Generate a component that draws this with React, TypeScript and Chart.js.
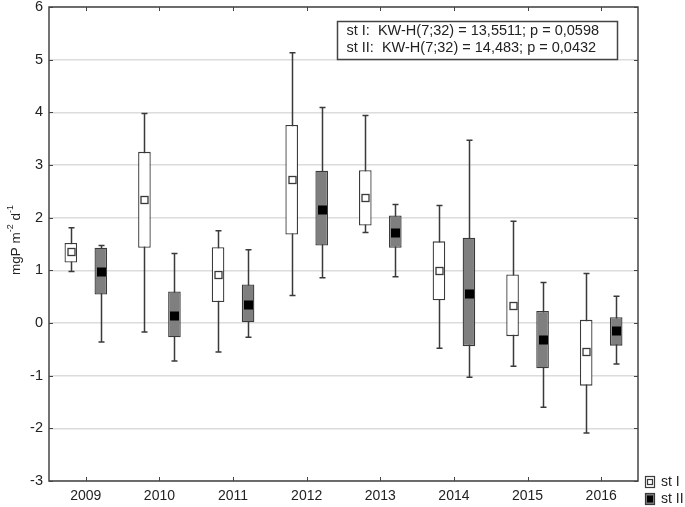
import React, { useEffect, useRef } from "react";
import { Chart, registerables } from "chart.js";
Chart.register(...registerables);

const years = ["2009", "2010", "2011", "2012", "2013", "2014", "2015", "2016"];
const st1Min = [0.98, -0.17, -0.55, 0.52, 1.72, -0.48, -0.82, -2.09];
const st1Q1 = [1.15, 1.43, 0.4, 1.68, 1.85, 0.43, -0.25, -1.19];
const st1Med = [1.34, 2.33, 0.91, 2.72, 2.38, 0.99, 0.32, -0.55];
const st1Q3 = [1.52, 3.25, 1.44, 3.76, 2.9, 1.55, 0.92, 0.06];
const st1Max = [1.81, 3.98, 1.75, 5.13, 3.94, 2.23, 1.93, 0.94];
const st2Min = [-0.36, -0.72, -0.27, 0.86, 0.88, -1.03, -1.6, -0.78];
const st2Q1 = [0.54, -0.27, 0.0, 1.47, 1.43, -0.44, -0.86, -0.43];
const st2Med = [0.96, 0.14, 0.35, 2.15, 1.71, 0.56, -0.33, -0.16];
const st2Q3 = [1.43, 0.6, 0.73, 2.89, 2.04, 1.62, 0.23, 0.11];
const st2Max = [1.47, 1.32, 1.39, 4.09, 2.25, 3.47, 0.77, 0.51];
const yMin = -3;
const yMax = 6;
const seriesNames = ["st I", "st II"];
const statLines = [
  "st I:  KW-H(7;32) = 13,5511; p = 0,0598",
  "st II:  KW-H(7;32) = 14,483; p = 0,0432",
];

const FONT = "'Liberation Sans', Arial, sans-serif";
const DARK = "#3a3a3a";
const GRAY = "#7f7f7f";

const boxPlugin = {
  id: "boxExtras",
  beforeDatasetsDraw(chart: any) {
    const ctx = chart.ctx;
    const y = chart.scales.y;
    const mins = [st1Min, st2Min];
    const maxs = [st1Max, st2Max];
    ctx.save();
    ctx.strokeStyle = DARK;
    ctx.lineWidth = 1.5;
    for (let d = 0; d < 2; d++) {
      const meta = chart.getDatasetMeta(d);
      meta.data.forEach((el: any, i: number) => {
        const x = Math.round(el.x) + 0.5;
        const y0 = y.getPixelForValue(mins[d][i]);
        const y1 = y.getPixelForValue(maxs[d][i]);
        ctx.beginPath();
        ctx.moveTo(x, y0);
        ctx.lineTo(x, y1);
        ctx.moveTo(x - 3, y0);
        ctx.lineTo(x + 3, y0);
        ctx.moveTo(x - 3, y1);
        ctx.lineTo(x + 3, y1);
        ctx.stroke();
      });
    }
    ctx.restore();
  },
  afterDatasetsDraw(chart: any) {
    const ctx = chart.ctx;
    const y = chart.scales.y;
    const meds = [st1Med, st2Med];
    ctx.save();
    for (let d = 0; d < 2; d++) {
      const meta = chart.getDatasetMeta(d);
      meta.data.forEach((el: any, i: number) => {
        const x = Math.round(el.x) + 0.5;
        const ym = Math.round(y.getPixelForValue(meds[d][i]));
        if (d === 0) {
          ctx.fillStyle = "#ffffff";
          ctx.strokeStyle = DARK;
          ctx.lineWidth = 1.3;
          ctx.fillRect(x - 3.5, ym - 3.5, 7, 7);
          ctx.strokeRect(x - 3.5, ym - 3.5, 7, 7);
        } else {
          ctx.fillStyle = "#000000";
          ctx.fillRect(x - 4.5, ym - 4.5, 9, 9);
        }
      });
    }
    ctx.restore();
  },
  afterDraw(chart: any) {
    const ctx = chart.ctx;
    const a = chart.chartArea;
    const xs = chart.scales.x;
    const ys = chart.scales.y;
    ctx.save();
    // frame
    ctx.strokeStyle = "#444";
    ctx.lineWidth = 1.5;
    ctx.strokeRect(a.left, a.top, a.right - a.left, a.bottom - a.top);
    // tick marks
    ctx.lineWidth = 1;
    ctx.beginPath();
    for (let i = 0; i < years.length; i++) {
      const px = Math.round(xs.getPixelForValue(i)) + 0.5;
      ctx.moveTo(px, a.bottom);
      ctx.lineTo(px, a.bottom - 4);
      ctx.moveTo(px, a.top);
      ctx.lineTo(px, a.top + 4);
    }
    for (let v = yMin; v <= yMax; v++) {
      const py = Math.round(ys.getPixelForValue(v)) + 0.5;
      ctx.moveTo(a.left, py);
      ctx.lineTo(a.left + 4, py);
      ctx.moveTo(a.right, py);
      ctx.lineTo(a.right - 4, py);
    }
    ctx.stroke();

    // y-axis title with superscripts
    ctx.fillStyle = "#222";
    ctx.translate(16, (a.top + a.bottom) / 2 - 4);
    ctx.rotate(-Math.PI / 2);
    const parts: [string, boolean][] = [
      ["mgP m", false],
      ["-2", true],
      [" d", false],
      ["-1", true],
    ];
    const big = `13.5px ${FONT}`;
    const small = `9px ${FONT}`;
    let total = 0;
    for (const [t, sup] of parts) {
      ctx.font = sup ? small : big;
      total += ctx.measureText(t).width;
    }
    let cx = -total / 2;
    ctx.textBaseline = "middle";
    ctx.textAlign = "left";
    for (const [t, sup] of parts) {
      ctx.font = sup ? small : big;
      ctx.fillText(t, cx, sup ? -5 : 0);
      cx += ctx.measureText(t).width;
    }
    ctx.setTransform(1, 0, 0, 1, 0, 0);

    // stats box
    const bx = 337.5, by = 21.5, bw = 280, bh = 38;
    ctx.fillStyle = "#ffffff";
    ctx.fillRect(bx, by, bw, bh);
    ctx.strokeStyle = "#444";
    ctx.lineWidth = 1.5;
    ctx.strokeRect(bx, by, bw, bh);
    ctx.fillStyle = "#222";
    ctx.font = `14.5px ${FONT}`;
    ctx.textBaseline = "middle";
    ctx.textAlign = "left";
    ctx.fillText(statLines[0], bx + 9, by + 9);
    ctx.fillText(statLines[1], bx + 9, by + 26);

    // legend
    const lx = 645;
    const ly = [476, 493];
    for (let k = 0; k < 2; k++) {
      const top = ly[k];
      ctx.fillStyle = k === 0 ? "#ffffff" : GRAY;
      ctx.fillRect(lx, top, 9, 11);
      ctx.strokeStyle = DARK;
      ctx.lineWidth = 1.2;
      ctx.strokeRect(lx + 0.5, top + 0.5, 9, 11);
      if (k === 0) {
        ctx.strokeRect(lx + 2.5, top + 3.5, 5, 5);
      } else {
        ctx.fillStyle = "#000";
        ctx.fillRect(lx + 2, top + 2.5, 6, 7);
      }
      ctx.fillStyle = "#222";
      ctx.font = `14px ${FONT}`;
      ctx.textBaseline = "middle";
      ctx.fillText(seriesNames[k], lx + 16, top + 6);
    }
    ctx.restore();
  },
};

export default function App() {
  const ref = useRef<HTMLCanvasElement | null>(null);
  useEffect(() => {
    if (!ref.current) return;
    const chart = new Chart(ref.current, {
      type: "bar",
      data: {
        labels: years,
        datasets: [
          {
            label: seriesNames[0],
            data: years.map((_, i) => [st1Q1[i], st1Q3[i]]) as any,
            backgroundColor: "#ffffff",
            borderColor: DARK,
            borderWidth: 1.3,
            borderSkipped: false,
            categoryPercentage: 0.815,
            barPercentage: 0.42,
          },
          {
            label: seriesNames[1],
            data: years.map((_, i) => [st2Q1[i], st2Q3[i]]) as any,
            backgroundColor: GRAY,
            borderColor: DARK,
            borderWidth: 1.3,
            borderSkipped: false,
            categoryPercentage: 0.815,
            barPercentage: 0.42,
          },
        ],
      },
      options: {
        responsive: false,
        animation: false,
        devicePixelRatio: 1,
        layout: { padding: { top: 7, right: 47, bottom: 0, left: 0 } },
        plugins: {
          legend: { display: false },
          tooltip: { enabled: false },
        },
        scales: {
          x: {
            grid: { display: false, drawTicks: false },
            border: { display: false },
            ticks: {
              color: "#222",
              font: { family: FONT, size: 14 },
              padding: 7,
              maxRotation: 0,
            },
            afterFit(s: any) {
              s.height = 26;
              s.paddingLeft = 0;
              s.paddingRight = 0;
            },
          },
          y: {
            min: yMin,
            max: yMax,
            grid: { color: "#dcdcdc", lineWidth: 1.5, drawTicks: false },
            border: { display: false },
            ticks: {
              stepSize: 1,
              color: "#222",
              font: { family: FONT, size: 14.5 },
              padding: 6,
            },
            afterFit(s: any) {
              s.width = 49;
              s.paddingTop = 0;
              s.paddingBottom = 0;
            },
          },
        },
      },
      plugins: [boxPlugin],
    });
    return () => chart.destroy();
  }, []);
  return (
    <div style={{ position: "fixed", left: 0, top: 0, width: 685, height: 507, background: "#fff" }}>
      <canvas ref={ref} width={685} height={507} style={{ width: 685, height: 507 }} />
    </div>
  );
}
